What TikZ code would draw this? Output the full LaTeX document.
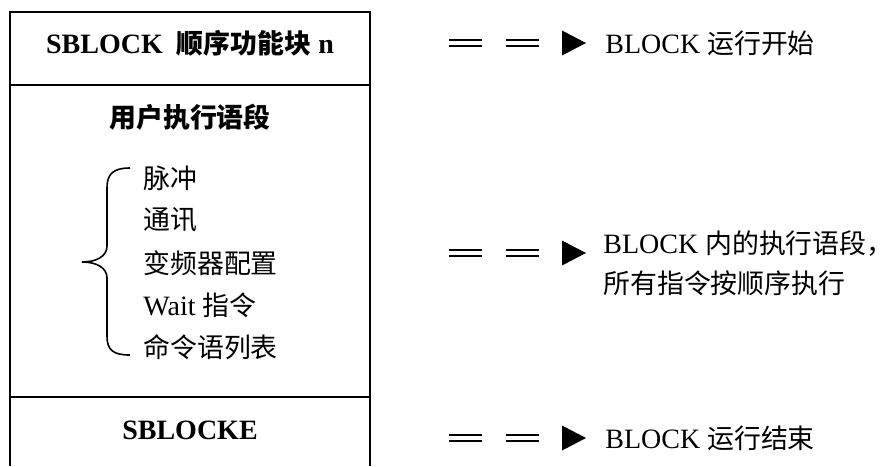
\documentclass[tikz,border=0pt]{standalone}
\usepackage{fontspec}
\setmainfont{Liberation Serif}
\newfontfamily\cjk[Scale=0.96]{Noto Sans CJK SC}
\usetikzlibrary{positioning, calc}

\begin{document}
\begin{tikzpicture}[x=0.5pt, y=-0.5pt, font=\fontsize{14}{20}\selectfont,
    frame/.style={line width=0.8pt},
    dbl/.style={double, line width=1pt, double distance=2pt,
      dash pattern=on 16.5pt off 11.75pt},
    tag/.style={anchor=west, inner sep=0pt, align=left}]
    \useasboundingbox (0,0) rectangle (888,466);
    % block frame, open at the bottom
    \draw[frame] (10,466) -- (10,12) -- (370,12) -- (370,466);
    \draw[frame] (10,85) -- (370,85);
    \draw[frame] (10,397) -- (370,397);
    \node (head) at (190,43) {\bfseries SBLOCK\ \ {\cjk 顺序功能块} n};
    \node (user) at (190,117) {\cjk\bfseries 用户执行语段};
    \node[tag] (pulse) at (143,178) {\cjk 脉冲};
    \node[tag] (comm) at (143,220) {\cjk 通讯};
    \node[tag] (vfd) at (143,263) {\cjk 变频器配置};
    \node[tag] (wait) at (143,305) {Wait {\cjk 指令}};
    \node[tag] (cmds) at (143,347) {\cjk 命令语列表};
    \node (tail) at (190,430) {\bfseries SBLOCKE};
    % brace round the list
    \draw[line width=0.8pt] (130,168) .. controls (113,168) and (107,174) .. (107,188)
      -- (107,246) .. controls (107,256) and (97,262) .. (82,262)
      .. controls (97,262) and (107,268) .. (107,278)
      -- (107,336) .. controls (107,350) and (113,355) .. (130,355);
    % arrows and notes
    \coordinate (s1) at (449,43);
    \coordinate (h1) at (562,43);
    \coordinate (s2) at (449,253);
    \coordinate (h2) at (562,253);
    \coordinate (s3) at (449,438);
    \coordinate (h3) at (562,438);
    \draw[dbl] (s1) -- (h1);
    \draw[dbl] (s2) -- (h2);
    \draw[dbl] (s3) -- (h3);
    \fill (h1) -- ++(0,-12.5) -- ++(24,12.5) -- ++(-24,12.5) -- cycle;
    \fill (h2) -- ++(0,-12.5) -- ++(24,12.5) -- ++(-24,12.5) -- cycle;
    \fill (h3) -- ++(0,-12.5) -- ++(24,12.5) -- ++(-24,12.5) -- cycle;
    \node[tag] (start) at (605,43) {BLOCK {\cjk 运行开始}};
    \node[tag] (body) at (603,263) {BLOCK {\cjk 内的执行语段，}\\{\cjk 所有指令按顺序执行}};
    \node[tag] (stop) at (605,438) {BLOCK {\cjk 运行结束}};
  \end{tikzpicture}
\end{document}
